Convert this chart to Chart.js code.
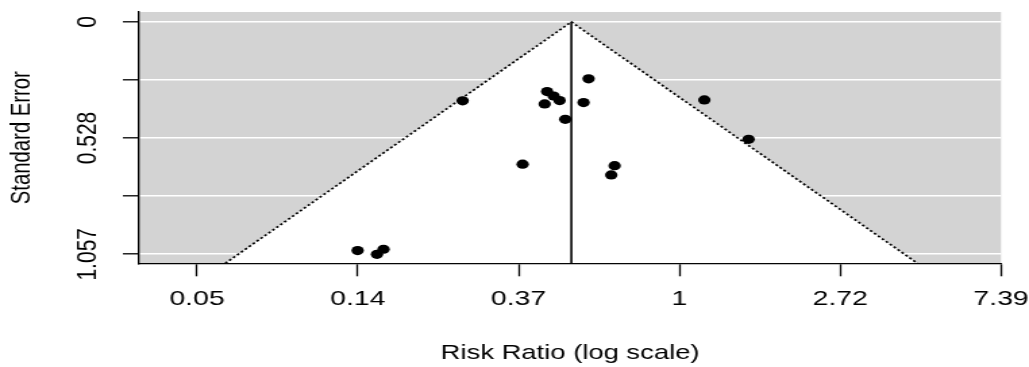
<!DOCTYPE html>
<html>
<head>
<meta charset="utf-8">
<script src="https://cdn.jsdelivr.net/npm/chart.js@4"></script>
<style>
  html, body { margin: 0; padding: 0; background: #fff; overflow: hidden; }
  #wrap { width: 762px; height: 367px; transform: scaleX(1.3504); transform-origin: 0 0; }
</style>
</head>
<body>
<div id="wrap"><canvas id="funnel" width="762" height="367"></canvas></div>
<script>
// Study estimates: log risk ratio and its standard error
const logRR = [-2.001, -1.881, -1.840, -1.348, -0.838, -0.823, -0.782, -0.745, -0.710, -0.975, -0.565, -0.596, 0.155, 0.430, -0.403, -0.424];
const stdErr = [1.040, 1.057, 1.034, 0.359, 0.373, 0.317, 0.337, 0.358, 0.443, 0.647, 0.259, 0.367, 0.355, 0.534, 0.654, 0.696];

// Pooled estimate (log scale)
const pooledLogRR = -0.672;

// Axis ticks
const xTickValues = [-3, -2, -1, 0, 1, 2];
const xTickLabels = ['0.05', '0.14', '0.37', '1', '2.72', '7.39'];
const yTickValues = [0, 0.264, 0.528, 0.793, 1.057];
const yTickLabels = ['0', '', '0.528', '', '1.057'];

// Axis ranges
const xRange = [-3.36, 2.0];
const yRange = [-0.045, 1.098];

const FONT = { family: "'Liberation Sans', Arial, sans-serif", size: 21 };
const TITLE_FONT = { family: "'Liberation Sans', Arial, sans-serif", size: 20.3 };
const yBottom = yRange[1];

// Gray plotting region behind the funnel
const plotBackground = {
  id: 'plotBackground',
  beforeDraw(chart) {
    const { ctx, chartArea: a } = chart;
    ctx.save();
    ctx.fillStyle = '#d3d3d3';
    ctx.fillRect(a.left, a.top, a.right - a.left, a.bottom - a.top);
    ctx.restore();
  }
};

const studies = logRR.map((v, i) => ({ x: v, y: stdErr[i] }));

new Chart(document.getElementById('funnel'), {
  type: 'line',
  data: {
    datasets: [
      {
        label: 'Studies',
        data: studies,
        showLine: false,
        pointRadius: 4.6,
        pointBackgroundColor: '#000',
        pointBorderWidth: 0,
        order: 0
      },
      {
        label: 'Pooled estimate',
        data: [{ x: pooledLogRR, y: 0 }, { x: pooledLogRR, y: yBottom }],
        borderColor: '#000',
        borderWidth: 1.6,
        pointRadius: 0,
        order: 1
      },
      {
        label: '95% pseudo confidence region',
        data: [
          { x: pooledLogRR - 1.96 * yBottom, y: yBottom },
          { x: pooledLogRR, y: 0 },
          { x: pooledLogRR + 1.96 * yBottom, y: yBottom }
        ],
        borderColor: '#000',
        borderWidth: 1.7,
        borderDash: [2, 2],
        backgroundColor: '#fff',
        fill: { value: yBottom },
        pointRadius: 0,
        order: 2
      }
    ]
  },
  options: {
    responsive: false,
    animation: false,
    events: [],
    layout: { padding: { top: 12, right: 20.7, left: 0, bottom: 0 } },
    plugins: { legend: { display: false }, tooltip: { enabled: false } },
    scales: {
      x: {
        type: 'linear',
        min: xRange[0],
        max: xRange[1],
        afterBuildTicks: s => { s.ticks = xTickValues.map(v => ({ value: v })); },
        afterFit: s => { s.height = 103.7; s.paddingLeft = 0; s.paddingRight = 0; },
        ticks: {
          callback: v => xTickLabels[xTickValues.indexOf(v)],
          font: FONT, color: '#000', padding: 10,
          autoSkip: false, maxRotation: 0, minRotation: 0
        },
        grid: { drawOnChartArea: false, tickLength: 13, tickColor: '#000', tickWidth: 1.3 },
        border: { color: '#000', width: 1.3 },
        title: { display: true, text: 'Risk Ratio (log scale)', font: TITLE_FONT, color: '#000', padding: { top: 0, bottom: 1 } }
      },
      y: {
        type: 'linear',
        reverse: true,
        min: yRange[0],
        max: yRange[1],
        afterBuildTicks: s => { s.ticks = yTickValues.map(v => ({ value: v })); },
        afterFit: s => { s.width = 103; s.paddingTop = 0; s.paddingBottom = 0; },
        ticks: {
          callback: v => yTickLabels[yTickValues.indexOf(v)],
          font: FONT, color: '#000', padding: 0,
          autoSkip: false, minRotation: 90, maxRotation: 90, crossAlign: 'center'
        },
        grid: { color: '#fff', lineWidth: 1.6, tickLength: 12, tickColor: '#000', tickWidth: 1.3 },
        border: { color: '#000', width: 1.3 },
        title: { display: true, text: 'Standard Error', font: TITLE_FONT, color: '#000', padding: { top: 4, bottom: 0 } }
      }
    }
  },
  plugins: [plotBackground]
});
</script>
</body>
</html>
